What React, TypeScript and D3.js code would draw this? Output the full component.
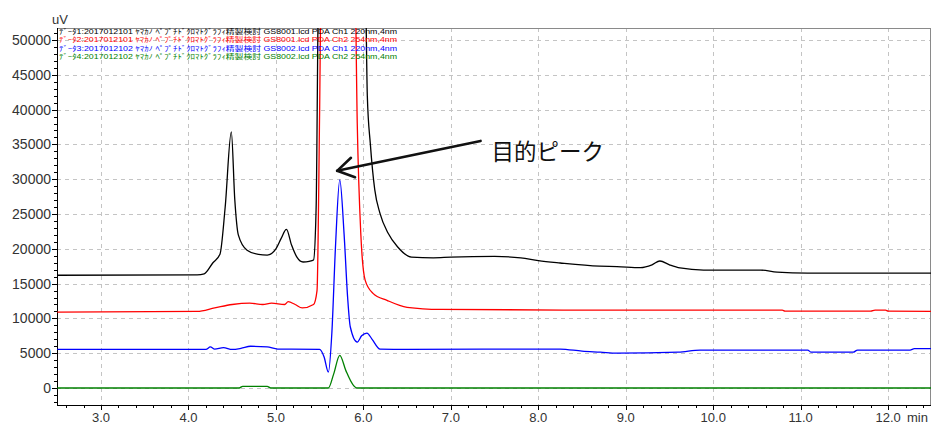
import * as d3 from 'd3';

// chromatogram traces, [time (min), signal (uV)]
const trace1: [number, number][] = [
  [2.5, 16200], [4.1, 16250], [4.18, 16400], [4.28, 18000], [4.36, 19200], [4.42, 26000],
  [4.49, 36800], [4.53, 27000], [4.57, 22000], [4.67, 19800], [4.8, 19200], [4.9, 19100],
  [5.0, 20000], [5.06, 21500], [5.12, 22800], [5.18, 20500], [5.24, 18800], [5.31, 18100],
  [5.38, 18200], [5.43, 18400], [5.46, 26000], [5.49, 60000], [5.8, 75000], [6.02, 60000],
  [6.045, 42000], [6.08, 35000], [6.13, 28500], [6.19, 25100], [6.28, 22300], [6.39, 20300],
  [6.55, 18800], [6.8, 18700], [7.0, 18800], [7.5, 18900], [7.8, 18700], [8.0, 18300],
  [8.25, 17960], [8.7, 17500], [8.9, 17450], [9.17, 17300], [9.3, 17700], [9.39, 18250],
  [9.5, 17700], [9.62, 17250], [9.89, 16950], [10.54, 16950], [10.73, 16650], [11.08, 16500],
  [12.49, 16500]
];
const trace2: [number, number][] = [
  [2.5, 10900], [4.1, 11000], [4.3, 11500], [4.5, 12000], [4.7, 12200], [4.85, 12000],
  [4.95, 12200], [5.1, 12000], [5.14, 12400], [5.22, 12000], [5.3, 11500], [5.43, 12000],
  [5.47, 14000], [5.5, 40000], [5.52, 62000], [5.7, 80000], [5.9, 62000], [5.93, 38000],
  [5.97, 22300], [6.02, 15500], [6.11, 13600], [6.27, 12600], [6.5, 11600], [6.88, 11300],
  [8.3, 11200], [10.79, 11200], [10.82, 11050], [11.8, 11050], [11.85, 11200], [11.97, 11200],
  [12.0, 11050], [12.49, 11000]
];
const trace3: [number, number][] = [
  [2.5, 5550], [4.2, 5550], [4.25, 5900], [4.3, 5600], [4.4, 5800], [4.5, 5550], [4.6, 5700],
  [4.71, 6000], [4.9, 5900], [5.02, 5600], [5.5, 5550], [5.55, 4500], [5.6, 2300], [5.64, 8000],
  [5.68, 20000], [5.73, 29900], [5.78, 22000], [5.82, 13000], [5.85, 8800], [5.93, 6600],
  [5.98, 7500], [6.04, 7900], [6.1, 7000], [6.19, 5600], [6.5, 5550], [8.25, 5600],
  [8.5, 5300], [8.71, 5150], [8.9, 5000], [9.6, 5150], [9.85, 5450], [11.08, 5450],
  [11.12, 5150], [11.6, 5150], [11.65, 5450], [12.25, 5450], [12.3, 5650], [12.49, 5650]
];
const trace4: [number, number][] = [
  [2.5, 0], [4.58, 0], [4.62, 250], [4.9, 250], [4.94, 0], [5.6, 0], [5.66, 2000],
  [5.73, 4700], [5.8, 2500], [5.88, 500], [5.93, 0], [12.49, 0]
];

const traces = [trace1, trace2, trace3, trace4];
const traceColors = ['#000000', '#ff0000', '#0000ff', '#008000'];

const legendRows = [
  'ﾃﾞｰﾀ1:2017012101 ﾔﾏｶﾉ ﾍﾟﾌﾟﾁﾄﾞｸﾛﾏﾄｸﾞﾗﾌｨ精製検討 GS8001.lcd PDA Ch1 220nm,4nm',
  'ﾃﾞｰﾀ2:2017012101 ﾔﾏｶﾉ ﾍﾟﾌﾟﾁﾄﾞｸﾛﾏﾄｸﾞﾗﾌｨ精製検討 GS8001.lcd PDA Ch2 254nm,4nm',
  'ﾃﾞｰﾀ3:2017012102 ﾔﾏｶﾉ ﾍﾟﾌﾟﾁﾄﾞｸﾛﾏﾄｸﾞﾗﾌｨ精製検討 GS8002.lcd PDA Ch1 220nm,4nm',
  'ﾃﾞｰﾀ4:2017012102 ﾔﾏｶﾉ ﾍﾟﾌﾟﾁﾄﾞｸﾛﾏﾄｸﾞﾗﾌｨ精製検討 GS8002.lcd PDA Ch2 254nm,4nm'
];

const xTicks = [3, 4, 5, 6, 7, 8, 9, 10, 11, 12];
const yTicks = [0, 5000, 10000, 15000, 20000, 25000, 30000, 35000, 40000, 45000, 50000];

// annotation: arrow tail/tip and label, in data units
const annotTip: [number, number] = [5.7, 31200];
const annotTail: [number, number] = [7.34, 35500];
const annotLabel = '目的ピーク';

const App = () => {
  const W = 932, H = 425;
  const left = 57, right = 931, top = 28, bottom = 405;

  const x = d3.scaleLinear().domain([2.497, 12.49]).range([left, right]);
  const y = d3.scaleLinear().domain([-2440, 51720]).range([bottom, top]);

  const line = d3.line<[number, number]>()
    .x(d => x(d[0]))
    .y(d => y(d[1]))
    .curve(d3.curveMonotoneX);

  const xMinor = d3.range(2.6, 12.49, 0.2).filter(v => Math.abs(v - Math.round(v)) > 0.01);
  const yMinor = d3.range(-2000, 51700, 1000).filter(v => v % 5000 !== 0);

  const tx = x(annotTip[0]), ty = y(annotTip[1]);
  const ex = x(annotTail[0]), ey = y(annotTail[1]);
  const ang = Math.atan2(ey - ty, ex - tx);
  const head = 19, spread = 0.55;
  const h1 = [tx + head * Math.cos(ang - spread), ty + head * Math.sin(ang - spread)];
  const h2 = [tx + head * Math.cos(ang + spread), ty + head * Math.sin(ang + spread)];

  const axisFont = '"Liberation Sans", Arial, sans-serif';

  return (
    <svg width={W} height={H} style={{ position: 'absolute', left: 0, top: 0, background: '#fff' }}>
      <defs>
        <clipPath id="plot">
          <rect x={left} y={top} width={right - left} height={bottom - top} />
        </clipPath>
      </defs>

      {/* grid */}
      <g stroke="#c4c4c4" strokeWidth={1} strokeDasharray="4,4">
        {xTicks.map(t => (
          <line key={'gx' + t} x1={Math.round(x(t)) + 0.5} x2={Math.round(x(t)) + 0.5} y1={top} y2={bottom} />
        ))}
        {yTicks.map(t => (
          <line key={'gy' + t} x1={left} x2={right} y1={Math.round(y(t)) + 0.5} y2={Math.round(y(t)) + 0.5} />
        ))}
      </g>

      {/* frame */}
      <rect x={left + 0.5} y={top + 0.5} width={right - left - 1} height={bottom - top} fill="none" stroke="#8a8a8a" />
      <line x1={left + 0.5} x2={left + 0.5} y1={top} y2={bottom + 1} stroke="#000" />
      <line x1={left} x2={right} y1={bottom + 0.5} y2={bottom + 0.5} stroke="#000" />

      {/* traces */}
      <g clipPath="url(#plot)" fill="none" strokeWidth={1.3}>
        {traces.map((tr, i) => (
          <path key={i} d={line(tr) || ''} stroke={traceColors[i]} strokeLinejoin="round" />
        ))}
      </g>

      {/* legend */}
      <g fontFamily='"Liberation Sans", "Noto Sans CJK JP", sans-serif' fontSize={6.8}>
        {legendRows.map((r, i) => (
          <text key={i} x={left + 2} y={top + 5.5 + i * 8.6} fill={traceColors[i]}
            textLength={338} lengthAdjust="spacingAndGlyphs">{r}</text>
        ))}
      </g>

      {/* y axis */}
      <g fontFamily={axisFont} fontSize={14} fill="#333">
        {yTicks.map(t => (
          <g key={'yt' + t}>
            <line x1={left - 5} x2={left} y1={Math.round(y(t)) + 0.5} y2={Math.round(y(t)) + 0.5} stroke="#000" />
            <text x={left - 6} y={y(t) + 5} textAnchor="end">{t}</text>
          </g>
        ))}
        {yMinor.map(t => (
          <line key={'ym' + t} x1={left - 3} x2={left} y1={Math.round(y(t)) + 0.5} y2={Math.round(y(t)) + 0.5} stroke="#000" />
        ))}
        <text x={52} y={24} fontSize={13}>uV</text>
      </g>

      {/* x axis */}
      <g fontFamily={axisFont} fontSize={13} fill="#333">
        {xTicks.map(t => (
          <g key={'xt' + t}>
            <line x1={Math.round(x(t)) + 0.5} x2={Math.round(x(t)) + 0.5} y1={bottom} y2={bottom + 5} stroke="#000" />
            <text x={x(t)} y={bottom + 17} textAnchor="middle">{t.toFixed(1)}</text>
          </g>
        ))}
        {xMinor.map(t => (
          <line key={'xm' + t.toFixed(1)} x1={Math.round(x(t)) + 0.5} x2={Math.round(x(t)) + 0.5} y1={bottom} y2={bottom + 3} stroke="#000" />
        ))}
        <text x={907} y={bottom + 17}>min</text>
      </g>

      {/* annotation */}
      <g stroke="#111" strokeWidth={2.6} fill="none" strokeLinecap="round" strokeLinejoin="round">
        <line x1={ex} y1={ey} x2={tx} y2={ty} />
        <polyline points={`${h1[0]},${h1[1]} ${tx},${ty} ${h2[0]},${h2[1]}`} />
      </g>
      <text x={ex + 11} y={ey + 19} fontFamily='"Noto Sans CJK JP", sans-serif' fontSize={22.5} fill="#111">
        {annotLabel}
      </text>
    </svg>
  );
};

export default App;
